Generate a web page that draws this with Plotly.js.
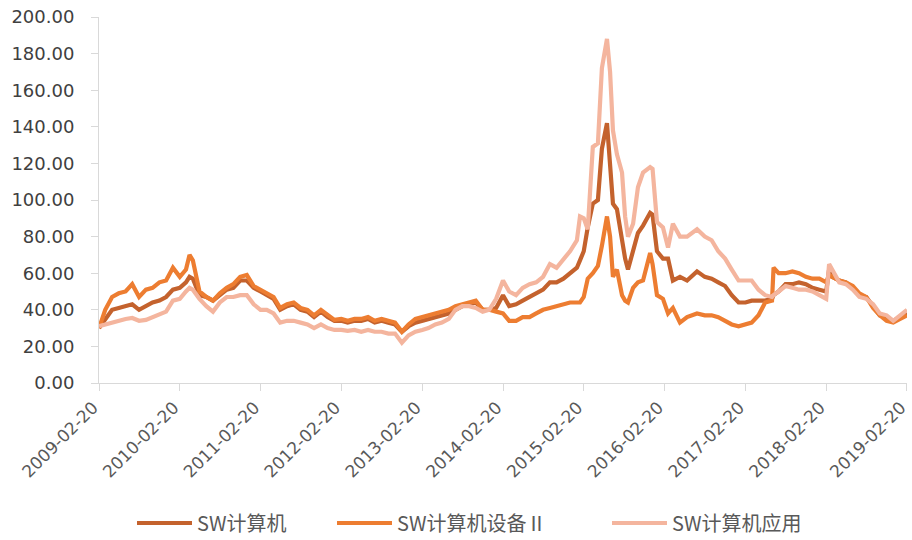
<!DOCTYPE html>
<html>
<head>
<meta charset="utf-8">
<script src="https://cdn.plot.ly/plotly-3.0.1.min.js"></script>
<style>html,body{margin:0;padding:0;background:#fff;}#chart{width:912px;height:540px;}</style>
</head>
<body>
<div id="chart"></div>
<script>
const seriesNames = ['SW计算机', 'SW计算机设备Ⅱ', 'SW计算机应用'];
const tickLabels = ['2009-02-20','2010-02-20','2011-02-20','2012-02-20','2013-02-20','2014-02-20','2015-02-20','2016-02-20','2017-02-20','2018-02-20','2019-02-20'];

const dates = [
'2009-02-20','2009-03-20','2009-04-20','2009-05-20','2009-06-20','2009-07-20','2009-08-20','2009-09-20','2009-10-20','2009-11-20','2009-12-20',
'2010-01-20','2010-02-20','2010-03-20','2010-04-05','2010-04-20','2010-05-20','2010-06-20','2010-07-20','2010-08-20','2010-09-20','2010-10-20','2010-11-20','2010-12-20',
'2011-01-20','2011-02-20','2011-03-20','2011-04-20','2011-05-20','2011-06-20','2011-07-20','2011-08-20','2011-09-20','2011-10-20','2011-11-20','2011-12-20',
'2012-01-20','2012-02-20','2012-03-20','2012-04-20','2012-05-20','2012-06-20','2012-07-20','2012-08-20','2012-09-20','2012-10-20','2012-11-20','2012-12-20',
'2013-01-20','2013-02-20','2013-03-20','2013-04-20','2013-05-20','2013-06-20','2013-07-20','2013-08-20','2013-09-20','2013-10-20','2013-11-20','2013-12-20',
'2014-01-20','2014-02-20','2014-03-20','2014-04-20','2014-05-20','2014-06-20','2014-07-20','2014-08-20','2014-09-20','2014-10-20','2014-11-20','2014-12-20',
'2015-01-20','2015-02-03','2015-02-20','2015-03-10','2015-04-02','2015-04-25','2015-05-13','2015-06-05','2015-06-19','2015-07-02','2015-07-20','2015-08-12','2015-08-26','2015-09-08','2015-10-01','2015-10-23','2015-11-15','2015-12-17','2015-12-28',
'2016-01-17','2016-02-13','2016-03-07','2016-03-29','2016-04-30','2016-06-01','2016-07-16','2016-08-20','2016-09-20','2016-10-20','2016-11-20','2016-12-20',
'2017-01-20','2017-02-20','2017-03-20','2017-04-20','2017-05-20','2017-06-20','2017-06-27','2017-07-20','2017-08-20','2017-09-20','2017-10-20','2017-11-20','2017-12-20',
'2018-01-20','2018-02-20','2018-03-05','2018-03-20','2018-04-20','2018-05-20','2018-06-20','2018-07-20','2018-08-20','2018-09-20','2018-10-20','2018-11-20','2018-12-20',
'2019-01-20','2019-02-20'
];

const swComputer = [
30,35,40,41,42,43,40,42,44,45,47,
51,52,55,58,57,48,47,45,48,51,52,56,56,
52,50,48,46,40,42,43,40,39,36,39,36,
34,34,33,34,34,35,33,34,33,32,28,31,
33,34,35,36,37,38,40,42,43,44,40,40,
41,48,42,43,45,47,49,51,55,55,57,60,
63,67,72,85,98,100,128,142,115,98,95,77,68,62,72,82,86,93,92,
72,68,68,56,58,56,61,58,57,55,53,48,
44,44,45,45,45,46,48,50,54,54,55,54,52,
51,50,62,58,56,55,52,48,47,42,37,36,34,
36,38
];

const swEquipment = [
30,40,47,49,50,54,47,51,52,55,56,
63,58,62,70,67,50,47,45,49,52,54,58,59,
53,51,49,47,41,43,44,41,40,37,40,37,
34.5,35,34,35,35,36,34,35,34,33,28,32,
35,36,37,38,39,40,42,43,44,45,40,40,
39,38,34,34,36,36,38,40,41,42,43,44,
44,44,47,57,60,64,75,91,80,58,62,48,45,44,52,55,56,71,65,
48,46,38,41,33,36,38,37,37,36,34,32,
31,32,33,37,44,45,63,60,60,61,60,58,57,
57,55,59,58,56,55,53,49,47,41,37,34,33,
35,37
];

const swApplication = [
31,32,33,34,35,35.5,34,34.5,36,37,39,
45,46,50,52,51,46,42,39,44,47,47,48,48,
43,40,40,38,33,34,34,33,32,30,32,30,
29,29,28.5,29,28,29,28,28,27,27,22,26,
28,29,30,32,33,35,40,42,42,41,39,40,
46,56,50,48,52,54,55,58,65,63,68,72,
78,91,90,84,129,131,172,188,170,138,125,115,91,80,87,107,115,118,117,
88,85,74,87,80,80,84,80,78,72,68,62,
56,56,56,51,48,47,48,50,53,52,51,51,50,
48,46,65,62,55,54,51,47,46,43,38,37,34,
37,40
];

const colors = ['#C4622D', '#ED7D31', '#F4B59E'];
const values = [swComputer, swEquipment, swApplication];
const legendIds = ['legend', 'legend2', 'legend3'];

const traces = seriesNames.map((name, i) => ({
  type: 'scatter',
  mode: 'lines',
  name: name,
  x: dates,
  y: values[i],
  line: {color: colors[i], width: 4.2},
  legend: legendIds[i],
  hoverinfo: 'skip'
}));

const txtColor = '#595959';
const fontFam = '"DejaVu Sans", "Noto Sans CJK SC", sans-serif';
const legFont = {family: '"Noto Sans CJK SC", "DejaVu Sans", sans-serif', size: 20, color: txtColor};
function leg(px) {
  return {
    orientation: 'h', xref: 'container', yref: 'container',
    x: px / 912, xanchor: 'left', y: 1 - 523 / 540, yanchor: 'middle',
    font: legFont, bgcolor: 'rgba(0,0,0,0)', itemwidth: 55, itemclick: false, itemdoubleclick: false
  };
}

const layout = {
  width: 912, height: 540,
  margin: {l: 99, r: 5, t: 17, b: 157},
  paper_bgcolor: '#ffffff', plot_bgcolor: '#ffffff',
  font: {family: fontFam, size: 18, color: txtColor},
  showlegend: true,
  legend: leg(132),
  legend2: leg(332),
  legend3: leg(607),
  xaxis: {
    type: 'date',
    range: ['2009-02-19 20:00', '2019-02-20 04:00'],
    tickmode: 'array', tickvals: tickLabels, ticktext: tickLabels,
    tickangle: -45,
    tickfont: {family: fontFam, size: 17, color: txtColor},
    ticklabeloverflow: 'allow',
    ticklabelshift: -6,
    ticks: 'outside', ticklen: 7, tickcolor: '#d9d9d9', tickwidth: 1,
    showline: true, linecolor: '#d9d9d9', linewidth: 1,
    showgrid: false, zeroline: false, fixedrange: true
  },
  yaxis: {
    range: [0, 200], dtick: 20, tick0: 0,
    showticklabels: false,
    ticks: 'outside', ticklen: 7, tickcolor: '#d9d9d9', tickwidth: 1,
    showline: true, linecolor: '#d9d9d9', linewidth: 1,
    showgrid: false, zeroline: false, fixedrange: true
  },
  yaxis2: {
    overlaying: 'y', side: 'left', anchor: 'x',
    range: [0, 200], dtick: 20, tick0: 0, tickformat: '.2f',
    tickfont: {family: fontFam, size: 18, color: '#404040'},
    ticks: 'outside', ticklen: 20, tickcolor: 'rgba(0,0,0,0)',
    showline: false, showgrid: false, zeroline: false, fixedrange: true
  }
};

// invisible helper trace so the label axis is drawn
traces.push({type: 'scatter', mode: 'none', x: [dates[0]], y: [0], yaxis: 'y2', showlegend: false, hoverinfo: 'skip'});

Plotly.newPlot('chart', traces, layout, {displayModeBar: false, staticPlot: true});
</script>
</body>
</html>
